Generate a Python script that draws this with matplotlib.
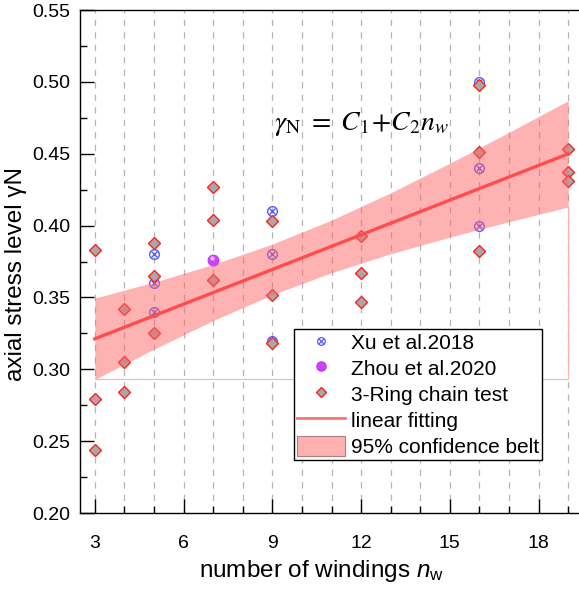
import numpy as np
import matplotlib
matplotlib.use("Agg")
import matplotlib.pyplot as plt
from matplotlib.legend_handler import HandlerTuple
from matplotlib.patches import Patch
from matplotlib.lines import Line2D

plt.rcParams['font.family'] = ['Liberation Sans', 'DejaVu Sans']
plt.rcParams['mathtext.fontset'] = 'custom'
plt.rcParams['mathtext.rm'] = 'Liberation Sans'
plt.rcParams['mathtext.it'] = 'Liberation Sans:italic'

# Xu et al. 2018
xu_x = [5, 5, 5, 9, 9, 9, 16, 16, 16]
xu_y = [0.38, 0.36, 0.34, 0.41, 0.38, 0.32, 0.50, 0.44, 0.40]

# Zhou et al. 2020
zhou_x = [7]
zhou_y = [0.376]

# 3-Ring chain test
ring_x = [3, 3, 3, 4, 4, 4, 5, 5, 5, 7, 7, 7, 9, 9, 9, 12, 12, 12, 16, 16, 16, 19, 19, 19]
ring_y = [0.383, 0.279, 0.244, 0.342, 0.305, 0.284, 0.388, 0.365, 0.325,
          0.427, 0.404, 0.362, 0.403, 0.352, 0.318, 0.393, 0.367, 0.347,
          0.498, 0.451, 0.382, 0.453, 0.437, 0.431]

# linear fitting and 95% confidence belt
fit_x = [3, 19]
fit_y = [0.3212, 0.4499]
band_x = [3, 5, 7, 9, 11, 13, 15, 17, 19]
band_hi = [0.3495, 0.3606, 0.3729, 0.3871, 0.4038, 0.4228, 0.4434, 0.4649, 0.4869]
band_lo = [0.2929, 0.3140, 0.3339, 0.3519, 0.3672, 0.3804, 0.3920, 0.4027, 0.4129]

fig = plt.figure(figsize=(5.79, 5.90), dpi=100)
ax = fig.add_axes([80/579, 1 - 513/590, 503/579, 503/590])

ax.set_xlim(2.5, 19.5)
ax.set_ylim(0.20, 0.55)

for xv in range(3, 20):
    ax.axvline(xv, color='#b4b4b4', lw=0.9, ls=(0, (5, 5)), zorder=0)

xu_c = '#5a5aff'
ax.plot(xu_x, xu_y, 'o', ms=7, mfc='none', mec=xu_c, mew=1.0, zorder=2)
ax.plot(xu_x, xu_y, 'x', ms=5, mec=xu_c, mew=1.0, zorder=2)
ax.plot(ring_x, ring_y, 'D', ms=6, mfc='#a8a8a8', mec='#ff2020', mew=1.0, zorder=3)

ax.fill_between(band_x, band_lo, band_hi, color='#ff6666', alpha=0.5, lw=0, zorder=4)
ax.plot([band_x[0], band_x[-1], band_x[-1]], [band_lo[0], band_lo[0], band_lo[-1]],
        color='#ffb0b0', lw=0.8, zorder=4)
ax.plot(fit_x, fit_y, color='#ff4d4d', lw=2.4, zorder=5)

ax.plot(zhou_x, zhou_y, 'o', ms=8, mfc='#d040ff', mec='#c030f0', mew=0.5, zorder=6)
ax.plot([zhou_x[0] - 0.05], [zhou_y[0] + 0.0015], 'o', ms=3, mfc='#f4c8ff', mec='none', zorder=7)

ax.text(12.0, 0.471, r'$\gamma_{\mathrm{N}}\ =\ C_1\!+\!C_2 n_w$', fontsize=20,
        ha='center', va='center', math_fontfamily='stix')

ax.set_xticks([3, 6, 9, 12, 15, 18])
ax.set_xticks(range(3, 20), minor=True)
ax.set_yticks(np.arange(0.20, 0.551, 0.05))
ax.set_yticks(np.arange(0.20, 0.551, 0.025), minor=True)
ax.yaxis.set_major_formatter(matplotlib.ticker.FormatStrFormatter('%.2f'))
ax.tick_params(which='major', direction='in', length=10, width=1, labelsize=14)
ax.tick_params(which='minor', direction='in', length=5, width=1)
ax.tick_params(axis='x', which='major', pad=16)
ax.tick_params(axis='y', which='major', pad=7)
ax.tick_params(right=False, top=False, which='both')
for s in ax.spines.values():
    s.set_linewidth(1.0)

ax.set_xlabel(r'number of windings $n_{\rm w}$', fontsize=17.5, math_fontfamily='custom')
ax.xaxis.set_label_coords(0.48, -0.09)
ax.set_ylabel('axial stress level γN', fontsize=17.5)
ax.yaxis.set_label_coords(-0.105, 0.475)

h_xu = (Line2D([], [], ls='none', marker='o', ms=5.5, mfc='none', mec=xu_c, mew=0.9),
        Line2D([], [], ls='none', marker='x', ms=3.8, mec=xu_c, mew=0.9))
h_zhou = Line2D([], [], ls='none', marker='o', ms=6.5, mfc='#d040ff', mec='#c030f0')
h_ring = Line2D([], [], ls='none', marker='D', ms=5.5, mfc='#a8a8a8', mec='#ff2020', mew=1.0)
h_fit = Line2D([], [], color='#ff7070', lw=2)
h_band = Patch(facecolor='#ffb0b0', edgecolor='#b08080', lw=0.8)
leg = ax.legend([h_xu, h_zhou, h_ring, h_fit, h_band],
                ['Xu et al.2018', 'Zhou et al.2020', '3-Ring chain test',
                 'linear fitting', '95% confidence belt'],
                handler_map={tuple: HandlerTuple(ndivide=1, pad=0)},
                loc='upper left', bbox_to_anchor=(0.425, 0.366), fontsize=15,
                frameon=True, fancybox=False, edgecolor='black', framealpha=1,
                handlelength=2.3, handleheight=1.1, labelspacing=0.23,
                borderpad=0.15, handletextpad=0.3, borderaxespad=0)
leg.get_frame().set_linewidth(1.0)
leg.set_zorder(10)

fig.savefig('out.png', dpi=100)
